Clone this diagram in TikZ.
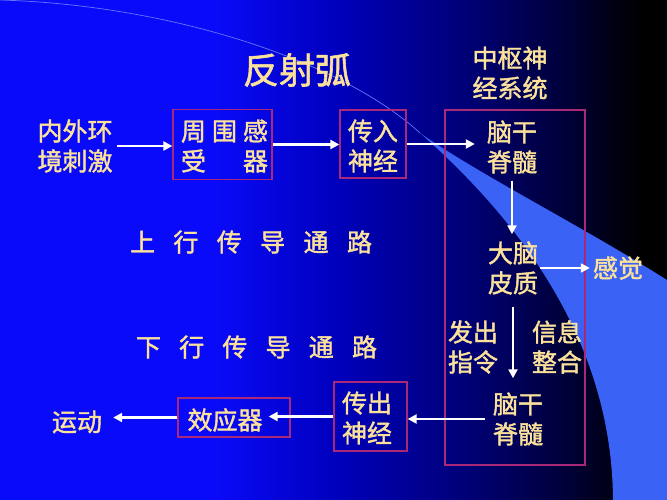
\documentclass[tikz,border=0pt]{standalone}
\usepackage{fontspec}
\newfontfamily\cjk[FakeBold=1.6]{Noto Sans CJK SC}
\usetikzlibrary{arrows.meta}
\definecolor{bgA}{RGB}{10,10,250}
\definecolor{bgB}{RGB}{0,0,190}
\definecolor{bgC}{RGB}{0,0,118}
\definecolor{bgD}{RGB}{0,0,60}
\definecolor{swoosh}{RGB}{58,98,245}
\definecolor{thinline}{RGB}{100,120,250}
\definecolor{gold}{RGB}{252,225,155}
\definecolor{boxred}{RGB}{170,40,120}
\pgfdeclarehorizontalshading{bgshade}{100bp}{color(0bp)=(bgA); color(41bp)=(bgA); color(50bp)=(bgB); color(60bp)=(bgC); color(67bp)=(bgD); color(73bp)=(black); color(100bp)=(black)}
\begin{document}
\begin{tikzpicture}[x=1pt,y=-1pt,
  txt/.style={text=gold, font=\cjk\fontsize{25}{30}\selectfont, align=center, inner sep=0pt},
  bx/.style={draw=boxred, line width=1.3pt, inner sep=0pt},
  arr/.style={draw=white, line width=2.6pt, -{Triangle[length=9pt,width=9pt]}}]
\useasboundingbox (0,0) rectangle (667,500);
\shade[shading=bgshade] (0,0) rectangle (667,500);
\fill[swoosh] (420,133) .. controls (480,175) and (580,225) .. (667,280) -- (667,500) -- (613,500) .. controls (612,350) and (530,230) .. (420,133) -- cycle;
\draw[thinline, line width=0.7pt] (0,0) .. controls (170,5) and (340,60) .. (420,133);
% boxes
\node[bx, minimum width=99pt, minimum height=70pt] (rec) at (222.5,144.5) {};
\node[bx, minimum width=66pt, minimum height=68pt] (aff) at (373,144) {};
\node[bx, minimum width=140pt, minimum height=355pt] (cnsbox) at (515,287.5) {};
\node[bx, minimum width=73pt, minimum height=69pt] (eff) at (370.5,416.5) {};
\node[bx, minimum width=112pt, minimum height=39pt] (effbox) at (234,417.5) {};
% texts
\node[txt, font=\cjk\fontsize{36}{40}\selectfont] (title) at (297,70) {反射弧};
\node[txt] (cns) at (510,73) {中枢神\\经系统};
\node[txt] (env) at (75,146) {内外环\\境刺激};
\node[txt] (rectxt) at (224.5,146) {\makebox[87pt]{周\hfill 围\hfill 感}\\\makebox[87pt]{受\hfill 器}};
\node[txt] (afftxt) at (373,146) {传入\\神经};
\node[txt] (brain1) at (512,147) {脑干\\脊髓};
\node[txt] (cortex) at (513,268) {大脑\\皮质};
\node[txt] (feel) at (618,268) {感觉};
\node[txt] (order) at (473,347) {发出\\指令};
\node[txt] (integ) at (557,347) {信息\\整合};
\node[txt] (brain2) at (518,419) {脑干\\脊髓};
\node[txt] (efftxt) at (367,418) {传出\\神经};
\node[txt] (effector) at (225,420) {效应器};
\node[txt] (move) at (77,422) {运动};
\node[txt] (up) at (251,242) {\makebox[242pt]{上\hfill 行\hfill 传\hfill 导\hfill 通\hfill 路}};
\node[txt] (down) at (256.5,347) {\makebox[241pt]{下\hfill 行\hfill 传\hfill 导\hfill 通\hfill 路}};
% arrows
\draw[arr, shorten <=4pt] (env.east) -- (env.east -| rec.west);
\draw[arr] (rec.east) -- (rec.east -| aff.west);
\draw[arr, shorten >=12pt] (aff.east) -- (aff.east -| brain1.west);
\draw[arr, shorten <=7pt, shorten >=7pt] (brain1.south) -- (brain1.south |- cortex.north);
\draw[arr, shorten <=2pt, shorten >=3pt] (cortex.east) -- (cortex.east -| feel.west);
\draw[arr, shorten <=12pt, shorten >=14pt] (cortex.south) -- (cortex.south |- brain2.north);
\draw[arr, shorten <=8pt] (brain2.west) -- (brain2.west -| eff.east);
\draw[arr, shorten >=6pt] (eff.west) -- (eff.west -| effector.east);
\draw[arr, shorten >=11pt] (effbox.west) -- (effbox.west -| move.east);
\end{tikzpicture}
\end{document}
